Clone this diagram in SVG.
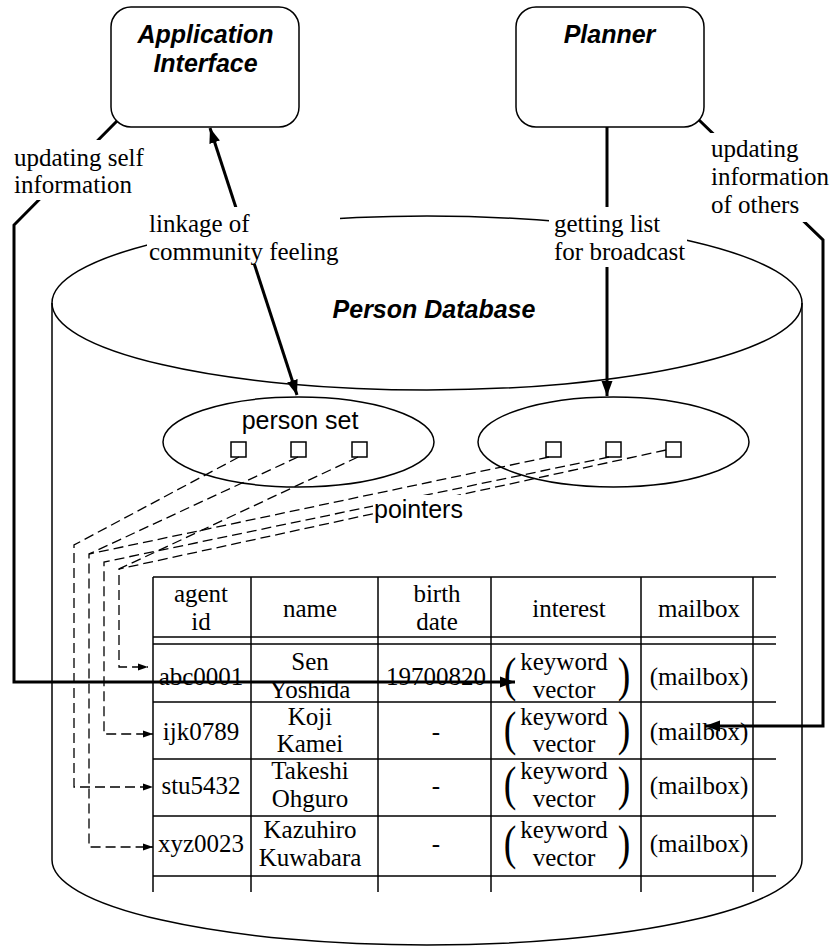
<svg xmlns="http://www.w3.org/2000/svg" width="834" height="947" viewBox="0 0 834 947">
<defs>
<marker id="arrow" markerUnits="userSpaceOnUse" viewBox="0 0 16 12" markerWidth="16" markerHeight="12" refX="15" refY="6" orient="auto-start-reverse">
<path d="M0,0.5 L15,6 L0,11.5 z" fill="#000"/>
</marker>
<marker id="arrow-small" markerUnits="userSpaceOnUse" viewBox="0 0 11 8" markerWidth="11" markerHeight="8" refX="10" refY="4" orient="auto">
<path d="M0,0.5 L10,4 L0,7.5 z" fill="#000"/>
</marker>
<style>
.box{fill:#fff;stroke:#000;stroke-width:1.5}
.outline{fill:none;stroke:#000;stroke-width:1.5}
.thick{fill:none;stroke:#000;stroke-width:3}
.ptr{fill:none;stroke:#000;stroke-width:1.3;stroke-dasharray:10 5}
.grid{fill:none;stroke:#000;stroke-width:1.5}
.title{font-family:"Liberation Sans",Arial,sans-serif;font-weight:bold;font-style:italic;font-size:25px;text-anchor:middle}
.sans{font-family:"Liberation Sans",Arial,sans-serif;font-size:25px}
.serif{font-family:"Liberation Serif","Times New Roman",serif;font-size:25px}
.mid{text-anchor:middle}
.paren{font-family:"Liberation Serif","Times New Roman",serif;font-size:42px;text-anchor:middle}
.mask{fill:#fff;stroke:none}
</style>
</defs>
<rect width="834" height="947" fill="#fff"/>

<!-- Person Database cylinder -->
<g id="person-database">
<ellipse class="outline" cx="427" cy="303" rx="375" ry="87"/>
<line class="outline" x1="52" y1="303" x2="52" y2="860"/>
<line class="outline" x1="802" y1="303" x2="802" y2="860"/>
<path class="outline" d="M52,860 A375,85 0 0 0 802,860"/>
<text class="title" x="434" y="318">Person Database</text>
</g>

<!-- person sets -->
<g id="person-set-1">
<ellipse class="outline" cx="298.5" cy="442" rx="135.5" ry="45"/>
<text class="sans mid" x="300" y="429">person set</text>
<rect class="outline" x="231" y="442" width="15" height="15"/>
<rect class="outline" x="291" y="442" width="15" height="15"/>
<rect class="outline" x="352" y="442" width="15" height="15"/>
</g>
<g id="person-set-2">
<ellipse class="outline" cx="613.5" cy="442" rx="135.5" ry="45"/>
<rect class="outline" x="546" y="442" width="15" height="15"/>
<rect class="outline" x="606" y="442" width="15" height="15"/>
<rect class="outline" x="666" y="442" width="15" height="15"/>
</g>

<!-- person table -->
<g id="person-table">
<g class="grid">
<line x1="153" y1="577" x2="776" y2="577"/>
<line x1="153" y1="637" x2="776" y2="637"/>
<line x1="153" y1="644" x2="776" y2="644"/>
<line x1="153" y1="702" x2="776" y2="702"/>
<line x1="153" y1="759" x2="776" y2="759"/>
<line x1="153" y1="816" x2="776" y2="816"/>
<line x1="153" y1="876" x2="776" y2="876"/>
<line x1="153" y1="577" x2="153" y2="892"/>
<line x1="251" y1="577" x2="251" y2="892"/>
<line x1="378" y1="577" x2="378" y2="892"/>
<line x1="491" y1="577" x2="491" y2="892"/>
<line x1="641" y1="577" x2="641" y2="892"/>
<line x1="753" y1="577" x2="753" y2="892"/>
</g>
<g class="serif mid">
<text x="201" y="602">agent</text>
<text x="201" y="630">id</text>
<text x="310" y="617">name</text>
<text x="437" y="602">birth</text>
<text x="437" y="630">date</text>
<text x="569" y="617">interest</text>
<text x="699" y="617">mailbox</text>

<text x="201" y="685">abc0001</text>
<text x="310" y="670">Sen</text>
<text x="310" y="698">Yoshida</text>
<text x="436" y="685">19700820</text>
<text x="564" y="670">keyword</text>
<text x="564" y="698">vector</text>
<text x="699" y="685">(mailbox)</text>

<text x="201" y="740">ijk0789</text>
<text x="310" y="725">Koji</text>
<text x="310" y="752">Kamei</text>
<text x="436" y="740">-</text>
<text x="564" y="725">keyword</text>
<text x="564" y="752">vector</text>
<text x="699" y="740">(mailbox)</text>

<text x="201" y="794">stu5432</text>
<text x="310" y="779">Takeshi</text>
<text x="310" y="807">Ohguro</text>
<text x="436" y="794">-</text>
<text x="564" y="779">keyword</text>
<text x="564" y="807">vector</text>
<text x="699" y="794">(mailbox)</text>

<text x="201" y="852">xyz0023</text>
<text x="310" y="838">Kazuhiro</text>
<text x="310" y="866">Kuwabara</text>
<text x="436" y="852">-</text>
<text x="564" y="838">keyword</text>
<text x="564" y="866">vector</text>
<text x="699" y="852">(mailbox)</text>
</g>
<!-- tall brackets round each keyword vector -->
<g class="paren">
<text transform="translate(510,691) scale(0.9,1.18)">(</text>
<text transform="translate(624,691) scale(0.9,1.18)">)</text>
<text transform="translate(510,745) scale(0.9,1.18)">(</text>
<text transform="translate(624,745) scale(0.9,1.18)">)</text>
<text transform="translate(510,800) scale(0.9,1.18)">(</text>
<text transform="translate(624,800) scale(0.9,1.18)">)</text>
<text transform="translate(510,859) scale(0.9,1.18)">(</text>
<text transform="translate(624,859) scale(0.9,1.18)">)</text>
</g>
</g>

<!-- connectors -->
<g id="connectors">
<g class="ptr">
<path d="M239,457 L74,545 L74,787 L153,787" marker-end="url(#arrow-small)"/>
<path d="M298,457 L89,554 L89,847 L153,847" marker-end="url(#arrow-small)"/>
<path d="M358,457 L119,569 L119,667 L148,667" marker-end="url(#arrow-small)"/>
<path d="M549,457 L89,554"/>
<path d="M609,457 L104,562 L104,734 L153,734" marker-end="url(#arrow-small)"/>
<path d="M666,450 L119,569"/>
</g>
<line class="thick" x1="297" y1="395" x2="210" y2="128" marker-start="url(#arrow)" marker-end="url(#arrow)"/>
<line class="thick" x1="607" y1="127" x2="607" y2="396" marker-end="url(#arrow)"/>
<polyline class="thick" points="117,121 14,225 14,682 515,682" marker-end="url(#arrow)"/>
<polyline class="thick" points="699,120 823,240 823,726 705,726" marker-end="url(#arrow)"/>
</g>

<!-- connector labels -->
<g id="label-self-update">
<rect class="mask" x="11" y="140" width="138" height="60"/>
<text class="serif" x="14" y="166">updating self</text>
<text class="serif" x="14" y="193">information</text>
</g>
<g id="label-linkage">
<rect class="mask" x="147" y="207" width="193" height="57"/>
<text class="serif" x="149" y="232">linkage of</text>
<text class="serif" x="149" y="260">community feeling</text>
</g>
<g id="label-broadcast">
<rect class="mask" x="549" y="207" width="138" height="60"/>
<text class="serif" x="554" y="232">getting list</text>
<text class="serif" x="554" y="260">for broadcast</text>
</g>
<g id="label-others-update">
<rect class="mask" x="709" y="133" width="125" height="89"/>
<text class="serif" x="711" y="157">updating</text>
<text class="serif" x="711" y="185">information</text>
<text class="serif" x="711" y="213">of others</text>
</g>
<g id="label-pointers">
<rect class="mask" x="373" y="495" width="91" height="28"/>
<text class="sans" x="374" y="518">pointers</text>
</g>

<!-- modules -->
<g id="application-interface">
<rect class="box" x="111" y="7" width="188" height="120" rx="20" ry="20"/>
<text class="title" x="205.5" y="43">Application</text>
<text class="title" x="205.5" y="72">Interface</text>
</g>
<g id="planner">
<rect class="box" x="516" y="7" width="188" height="120" rx="20" ry="20"/>
<text class="title" x="609.5" y="43">Planner</text>
</g>
</svg>
